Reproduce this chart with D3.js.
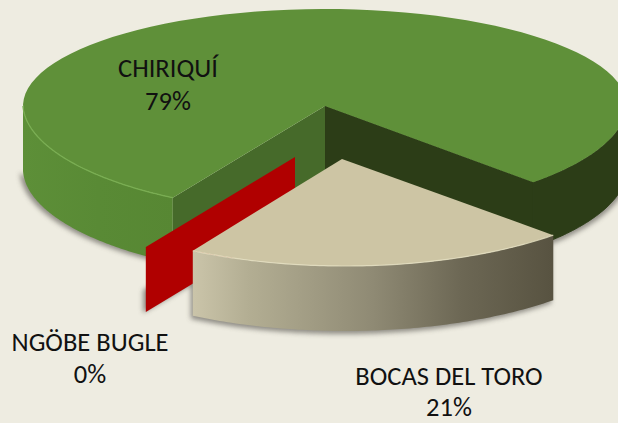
<!DOCTYPE html>
<html><head><meta charset="utf-8">
<script src="https://cdn.jsdelivr.net/npm/d3@7/dist/d3.min.js"></script>
<style>html,body{margin:0;padding:0;background:#eeece1;overflow:hidden}svg{display:block}text{font-family:Carlito,Lato,sans-serif;fill:#111}</style>
</head><body><svg id="c" width="618" height="423"></svg>
<script>
// data
const categories = ["CHIRIQUÍ","BOCAS DEL TORO","NGÖBE BUGLE"];
const values = [79,21,0];
const percentLabels = ["79%","21%","0%"];

const svg = d3.select("#c");
const W=618,H=423;
svg.append("rect").attr("width",W).attr("height",H).attr("fill","#eeece1");
const defs = svg.append("defs");
defs.append("filter").attr("id","blur").attr("x","-20%").attr("y","-20%").attr("width","140%").attr("height","140%")
  .append("feGaussianBlur").attr("stdDeviation",2.5);
function grad(id,x1,x2,stops){
  const g=defs.append("linearGradient").attr("id",id).attr("gradientUnits","userSpaceOnUse")
    .attr("x1",x1).attr("x2",x2).attr("y1",0).attr("y2",0);
  stops.forEach(s=>g.append("stop").attr("offset",s[0]).attr("stop-color",s[1]));
}
grad("beigeSide",194,552,[[0,"#cac4a9"],[0.15,"#b3ae93"],[0.5,"#8f8a74"],[0.75,"#6c6754"],[1,"#585341"]]);
grad("greenSide",23,175,[[0,"#5d8f38"],[0.5,"#598a35"],[1,"#578733"]]);

const deg=Math.PI/180;
const pie=d3.pie().sort(null).value(d=>d).startAngle(211*deg).endAngle(571*deg);
const arcs=pie(values);

// projection of the tilted disc, with a mild perspective at the front
const DEPTH=65, RX=302, RY_BACK=97, RY_FRONT=107, WARP=0.025;
const sx=d3.scaleLinear().domain([-1,1]).range([-RX,RX]);
const syFront=d3.scaleLinear().domain([0,1]).range([0,RY_FRONT]);
const syBack=d3.scaleLinear().domain([-1,0]).range([-RY_BACK,0]);
function pt(a,c,dz=0,k=1){
  const u=Math.sin(a), v=-Math.cos(a);
  const uw=u*(1-WARP*Math.max(v,0));
  return [c[0]+k*sx(uw), c[1]+dz+k*(v>0?syFront(v):syBack(v))];
}
const line=d3.line();
const samples=(a0,a1,n=90)=>d3.range(n+1).map(i=>a0+(a1-a0)*i/n);
function sector(a0,a1,c,apex=c){return line([apex,...samples(a0,a1).map(a=>pt(a,c))])+"Z";}
function side(a0,a1,c){
  const s=samples(a0,a1);
  return line([...s.map(a=>pt(a,c)),...s.slice().reverse().map(a=>pt(a,c,DEPTH))])+"Z";
}
function wall(a,c,k=1){
  return line([c,pt(a,c,0,k),pt(a,c,DEPTH,k),[c[0],c[1]+DEPTH]])+"Z";
}

const C0=[325,106], C1=[345,159], C1apex=[342,159], C2=[295,157];
const A=arcs[0], B=arcs[1], N=arcs[2];
const g0=A.startAngle, g1=A.endAngle;
const b0=B.startAngle, b1=B.endAngle;

// soft shadows
const sh=svg.append("g").attr("filter","url(#blur)").attr("fill","#6f6d66").attr("opacity",.75);
sh.append("path").attr("d",line(samples(270*deg,g0).map(a=>pt(a,[C0[0]-3,C0[1]+2],DEPTH)))+"L150,250Z");
sh.append("path").attr("d",line([...samples(g1,450*deg,30).map(a=>pt(a,[C0[0]+2,C0[1]+3],DEPTH)),[618,150]])+"Z");
sh.append("path").attr("d",side(b0,b1,[C1[0]-2,C1[1]+3]));
sh.append("path").attr("d",line([[143,313],[295,225],[295,205],[143,290]])+"Z");

// Chiriquí: outer side, inner walls, top
svg.append("path").attr("d",side(g0,270*deg,C0)).attr("fill","url(#greenSide)");
svg.append("path").attr("d",side(g1,450*deg,C0)).attr("fill","#2c3d17").attr("stroke","#2c3d17").attr("stroke-width",1);
svg.append("path").attr("d",wall(g1,C0)).attr("fill","#2c3d17").attr("stroke","#2c3d17").attr("stroke-width",1);
svg.append("path").attr("d",wall(g0,C0)).attr("fill","#466a2a");
svg.append("path").attr("d",sector(g0,g1,C0)).attr("fill","#5f9039");
svg.append("path").attr("d",line(samples(g0,270*deg).map(a=>pt(a,C0)))).attr("fill","none").attr("stroke","#79ad52").attr("stroke-width",1.3);

// Ngöbe Bugle: zero-width slice, only its wall is visible
svg.append("path").attr("d",wall(N.startAngle,C2,0.98)).attr("fill","#b00000");

// Bocas del Toro
svg.append("path").attr("d",side(b0,b1,C1)).attr("fill","url(#beigeSide)");
svg.append("path").attr("d",sector(b0,b1,C1,C1apex)).attr("fill","#cdc5a4");
svg.append("path").attr("d",line(samples(b0,b1).map(a=>pt(a,C1)))).attr("fill","none").attr("stroke","#e6e1c3").attr("stroke-width",1.2).attr("stroke-opacity",.8);

// labels
const labelX=[168,449,90], labelY=[[77,110],[385,415.5],[351,383]];
const fmt=svg.append("g").attr("text-anchor","middle").attr("font-size",26.5);
categories.forEach((c,i)=>{
  fmt.append("text").attr("x",labelX[i]).attr("y",labelY[i][0]).text(c);
  fmt.append("text").attr("x",labelX[i]).attr("y",labelY[i][1]).text(percentLabels[i]);
});
</script></body></html>
